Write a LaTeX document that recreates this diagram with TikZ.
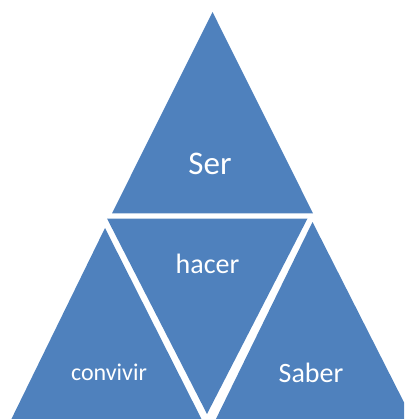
\documentclass[tikz,border=0pt]{standalone}
\usepackage{fontspec}
\setmainfont{Carlito}
\definecolor{segblue}{RGB}{79,129,189}
\tikzset{
  seg/.style={fill=segblue, draw=none},
  lbl/.style={text=white, anchor=base, inner sep=0pt}
}
\begin{document}
\begin{tikzpicture}[x=1pt,y=-1pt]
\useasboundingbox (0,0) rectangle (404,419);
\clip (0,0) rectangle (404,419);
% top triangle
\fill[seg] (212.5,12) -- (112,213.3) -- (313,213.3) -- cycle;
% middle inverted triangle
\fill[seg] (107,218.5) -- (307.5,218.5) -- (207,414) -- cycle;
% bottom-left triangle
\fill[seg] (105,228) -- (8,426) -- (205,426) -- cycle;
% bottom-right triangle
\fill[seg] (312.5,222) -- (212.5,426) -- (416,426) -- cycle;
% labels
\node[lbl, font=\fontsize{33}{33}\selectfont] (ser) at (210,175) {Ser};
\node[lbl, font=\fontsize{28}{28}\selectfont] (hacer) at (207.5,273.3) {hacer};
\node[lbl, font=\fontsize{24}{24}\selectfont] (convivir) at (109,380.7) {convivir};
\node[lbl, font=\fontsize{28}{28}\selectfont] (saber) at (311,382.7) {Saber};
\end{tikzpicture}
\end{document}
